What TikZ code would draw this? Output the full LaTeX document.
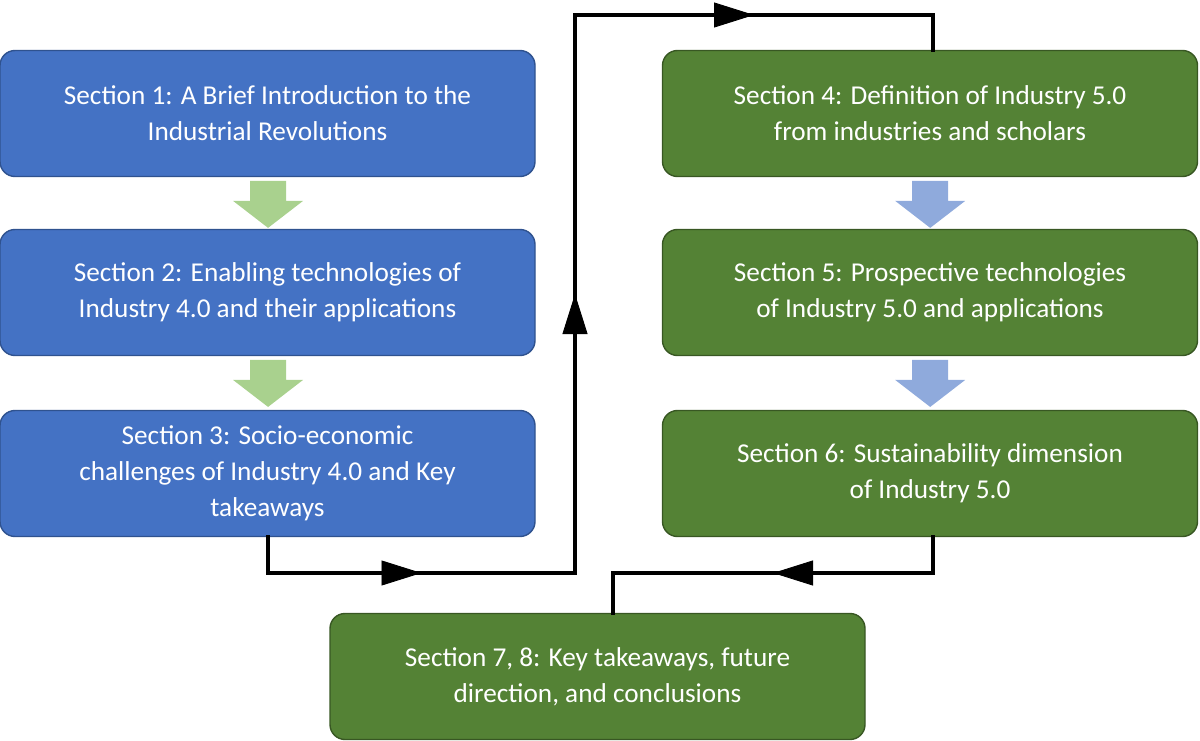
\documentclass[tikz,border=0pt]{standalone}
\usepackage{fontspec}
\setmainfont{Carlito}
\usetikzlibrary{arrows.meta,decorations.markings}
\definecolor{bbox}{HTML}{4472C4}
\definecolor{bline}{HTML}{2F528F}
\definecolor{gbox}{HTML}{548235}
\definecolor{gline}{HTML}{385723}
\definecolor{lgreen}{HTML}{A9D18E}
\definecolor{lblue}{HTML}{8FAADC}
\tikzset{
 box/.style={draw, line width=0.8pt, rounded corners=0.3cm, minimum width=10.7cm, minimum height=2.52cm, align=center, text=white, font=\fontsize{15.5}{20.5}\selectfont, inner sep=0pt},
 bluebox/.style={box, fill=bbox, draw=bline},
 greenbox/.style={box, fill=gbox, draw=gline},
 conn/.style={line width=2.4pt, line cap=rect},
 mid/.style={postaction={decorate}, decoration={markings, mark=at position 0.5 with {\arrow[line width=0.5pt]{Triangle[length=0.8cm,width=0.5cm]}}}},
}
\newcommand{\blockarrow}[3]{% x, ytop(px), color
 \fill[#3] ({(#1-18)*0.02},{(740-#2)*0.02}) -- ({(#1+18)*0.02},{(740-#2)*0.02}) -- ({(#1+18)*0.02},{(740-#2-20)*0.02}) -- ({(#1+35)*0.02},{(740-#2-20)*0.02}) -- ({#1*0.02},{(740-#2-47)*0.02}) -- ({(#1-35)*0.02},{(740-#2-20)*0.02}) -- ({(#1-18)*0.02},{(740-#2-20)*0.02}) -- cycle;}
\begin{document}
\begin{tikzpicture}
\useasboundingbox (0,0) rectangle (24,14.8);
\node[bluebox] (s1) at (5.35,12.53) {Section 1: A Brief Introduction to the\\Industrial Revolutions};
\node[bluebox] (s2) at (5.35,8.95) {Section 2: Enabling technologies of\\Industry 4.0 and their applications};
\node[bluebox] (s3) at (5.35,5.33) {Section 3: Socio-economic\\challenges of Industry 4.0 and Key\\takeaways};
\node[greenbox] (s4) at (18.6,12.53) {Section 4: Definition of Industry 5.0\\from industries and scholars};
\node[greenbox] (s5) at (18.6,8.95) {Section 5: Prospective technologies\\of Industry 5.0 and applications};
\node[greenbox] (s6) at (18.6,5.33) {Section 6: Sustainability dimension\\of Industry 5.0};
\node[greenbox] (s7) at (11.95,1.27) {Section 7, 8: Key takeaways, future\\direction, and conclusions};
\blockarrow{268}{181}{lgreen}
\blockarrow{268}{360}{lgreen}
\blockarrow{930}{181}{lblue}
\blockarrow{930}{360}{lblue}
\coordinate (a1) at (5.36,3.34);
\coordinate (a2) at (11.5,3.34);
\coordinate (a3) at (11.5,14.5);
\coordinate (a4) at (18.66,14.5);
\coordinate (b1) at (18.66,3.34);
\coordinate (b2) at (12.26,3.34);
\draw[conn] (s3.south -| a1) -- (a1);
\draw[conn,mid] (a1) -- (a2);
\draw[conn,mid] (a2) -- (a3);
\draw[conn,mid] (a3) -- (a4);
\draw[conn] (a4) -- (s4.north -| a4);
\draw[conn] (s6.south -| b1) -- (b1);
\draw[conn,mid] (b1) -- (b2);
\draw[conn] (b2) -- (s7.north -| b2);
\end{tikzpicture}
\end{document}
